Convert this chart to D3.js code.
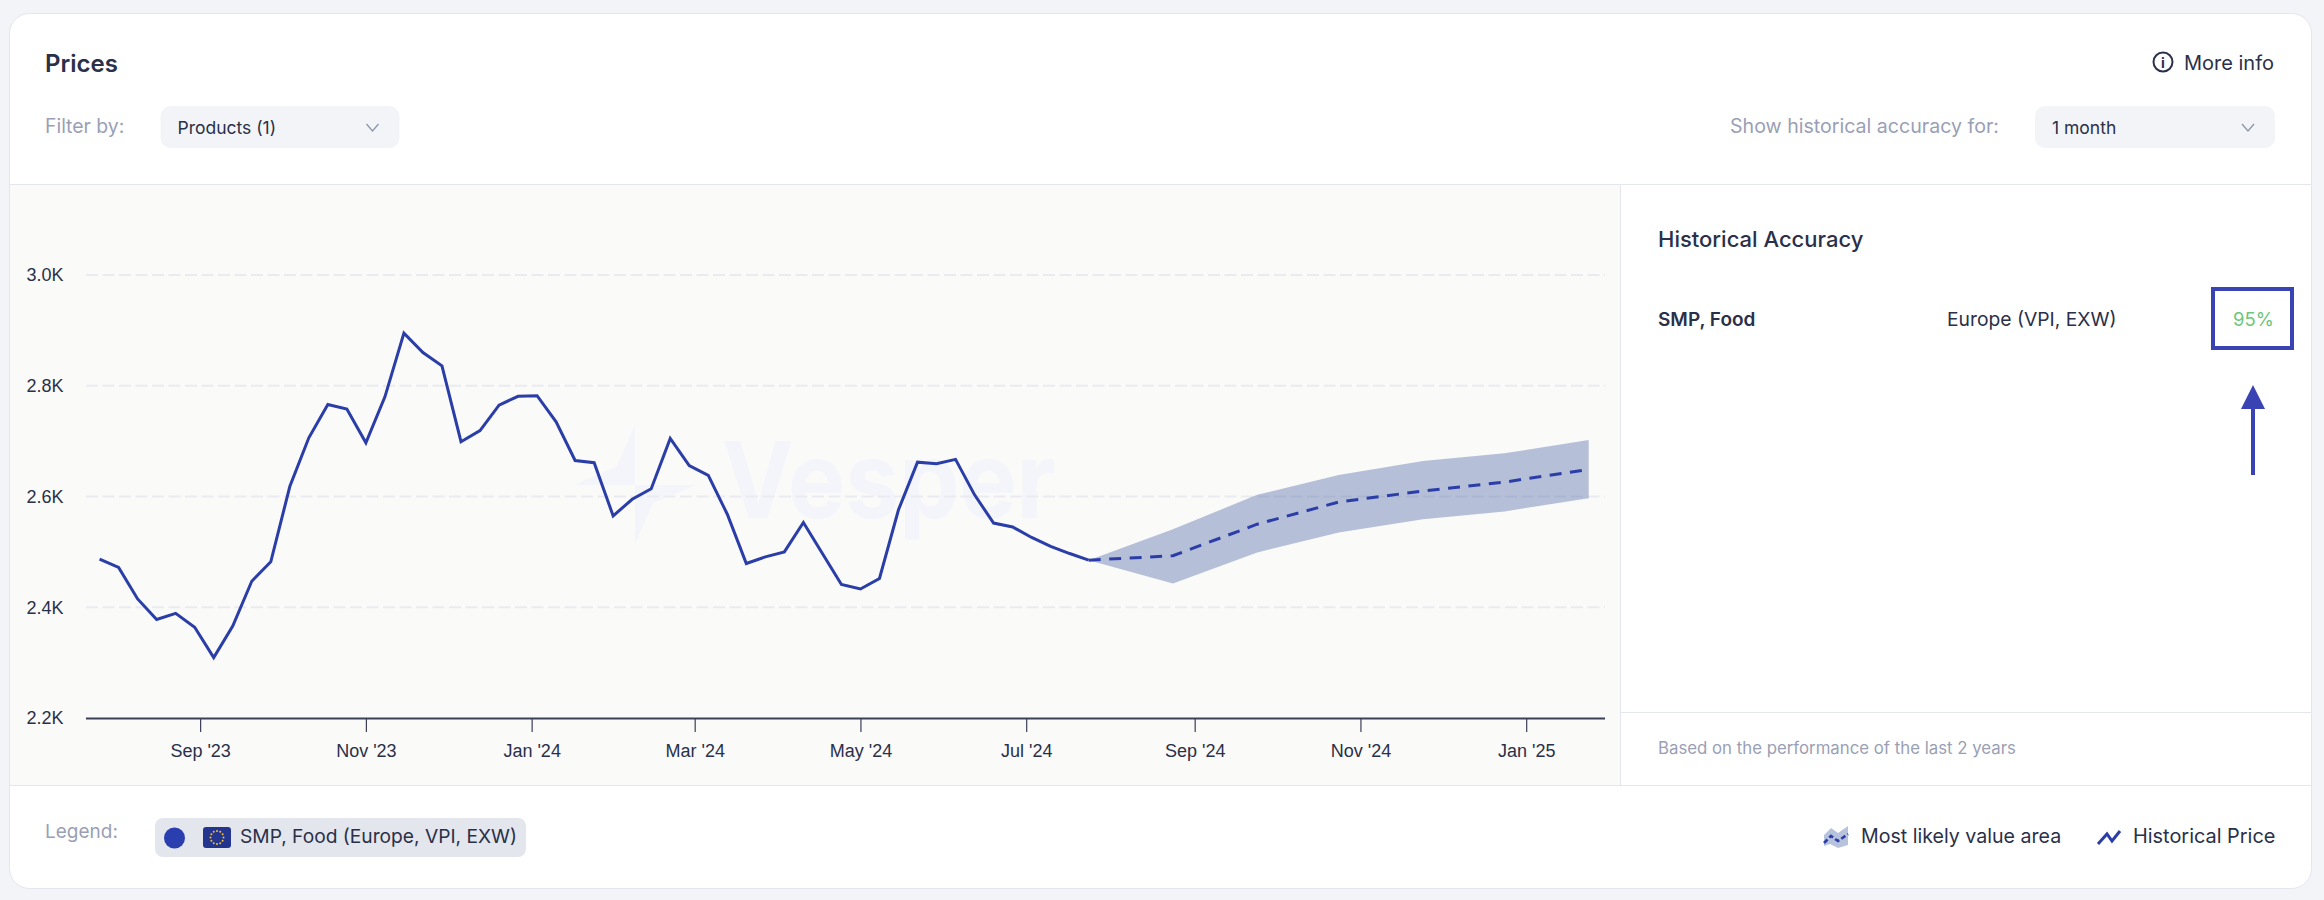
<!DOCTYPE html>
<html>
<head>
<meta charset="utf-8">
<title>Prices</title>
<script src="https://cdn.jsdelivr.net/npm/d3@7/dist/d3.min.js"></script>
<style>
  html, body { margin: 0; padding: 0; background: #f3f4f8; }
  svg { display: block; font-family: Inter, Roboto, sans-serif; }
  text { fill: #2a3049; }
  .muted { fill: #9a9fb5; }
</style>
</head>
<body>
<svg id="chart" width="2324" height="900"></svg>
<script>
// Weekly historical price, EUR/t, first reading 26 Jul 2023
const historyStart = "2023-07-26";
const historyValues = [
  2487, 2472, 2415, 2378, 2389, 2364, 2309, 2366, 2447, 2482, 2618, 2706, 2766, 2758,
  2697, 2780, 2895, 2860, 2836, 2699, 2719, 2765, 2781, 2782, 2735, 2665, 2661, 2565,
  2595, 2614, 2705, 2656, 2638, 2568, 2479, 2491, 2500, 2553, 2497, 2441, 2433, 2452,
  2576, 2662, 2659, 2667, 2603, 2552, 2545, 2526, 2510, 2497, 2485
];

// Monthly forecast with its most likely value area
const forecastDates = ["2024-07-24", "2024-08-24", "2024-09-24", "2024-10-24", "2024-11-24", "2024-12-24", "2025-01-24"];
const forecastMid   = [2485, 2493, 2550, 2590, 2610, 2626, 2649];
const forecastHigh  = [2485, 2541, 2603, 2639, 2664, 2678, 2702];
const forecastLow   = [2485, 2443, 2499, 2535, 2559, 2573, 2597];

const yTickValues = [2200, 2400, 2600, 2800, 3000];
const xTickDates = ["2023-09-01", "2023-11-01", "2024-01-01", "2024-03-01", "2024-05-01", "2024-07-01", "2024-09-01", "2024-11-01", "2025-01-01"];
const xDomain = ["2023-07-21", "2025-01-30"];

const parse = d3.utcParse("%Y-%m-%d");
const svg = d3.select("#chart");
const ink = "#2a3049", rule = "#e4e6ee", lineBlue = "#2b3ea8";

function label(x, y, str, size, opts = {}) {
  return svg.append("text").attr("x", x).attr("y", y)
    .attr("dominant-baseline", "central")
    .attr("text-anchor", opts.anchor || "start")
    .attr("font-size", size)
    .attr("font-weight", opts.weight || 400)
    .attr("class", opts.cls || null)
    .style("fill", opts.fill || null)
    .text(str);
}

// Card, header rule and chart plate
svg.append("rect").attr("x", 9.5).attr("y", 13.5).attr("width", 2302).attr("height", 875)
  .attr("rx", 20).attr("fill", "#fff").attr("stroke", rule);
svg.append("rect").attr("x", 10).attr("y", 184).attr("width", 1610).attr("height", 601).attr("fill", "#fafaf8");
[[10, 2311, 184.5, 184.5], [10, 2311, 785.5, 785.5], [1620.5, 1620.5, 184, 785], [1621, 2311, 712.5, 712.5]]
  .forEach(([x1, x2, y1, y2]) => svg.append("line").attr("x1", x1).attr("x2", x2).attr("y1", y1).attr("y2", y2).attr("stroke", rule));

// Header
label(45, 63, "Prices", 24, { weight: 600 });
label(45, 126, "Filter by:", 19.4, { cls: "muted" });
function dropdown(x, w, str) {
  svg.append("rect").attr("x", x).attr("y", 106).attr("width", w).attr("height", 42).attr("rx", 10).attr("fill", "#f2f4f8");
  label(x + 17, 127, str, 17.5);
  const cx = x + w - 27;
  svg.append("path").attr("d", `M${cx - 6},124 L${cx},131 L${cx + 6},124`).attr("fill", "none").attr("stroke", "#8f94a8").attr("stroke-width", 1.3);
}
dropdown(160.5, 239, "Products (1)");
label(1999, 126, "Show historical accuracy for:", 19.6, { cls: "muted", anchor: "end" });
dropdown(2035, 240, "1 month");

// Info link
svg.append("circle").attr("cx", 2163).attr("cy", 62).attr("r", 9.5).attr("fill", "none").attr("stroke", ink).attr("stroke-width", 2);
label(2163, 62.5, "i", 14, { anchor: "middle", weight: 700 });
label(2274, 62.5, "More info", 20, { anchor: "end" });

// Scales
const x = d3.scaleUtc().domain(xDomain.map(parse)).range([86, 1605]);
const y = d3.scaleLinear().domain([2200, 3000]).range([718, 275]);

// Watermark behind the plot
const wm = svg.append("g").attr("class", "watermark");
wm.append("path").attr("fill", "#f3f5fb")
  .attr("d", "M635,425 L635,485 L574,485 L617,466 Z M635,485 L696,485 L653,503 L635,544 Z");
wm.append("text").attr("x", 722).attr("y", 518).attr("font-size", 106).attr("font-weight", 700)
  .attr("textLength", 334).attr("lengthAdjust", "spacingAndGlyphs").style("fill", "#f3f5fb").text("Vesper");

// Gridlines and axes
const yAxis = d3.axisLeft(y).tickValues(yTickValues).tickSize(0).tickPadding(0)
  .tickFormat(v => (v / 1000).toFixed(1) + "K");
const gy = svg.append("g").attr("transform", "translate(63.5,0)").call(yAxis);
gy.select(".domain").remove();
gy.selectAll("text").attr("font-size", 18).attr("font-family", null).style("fill", ink);

svg.append("g").selectAll("line").data(yTickValues.filter(v => v > 2200)).join("line")
  .attr("x1", 86).attr("x2", 1605)
  .attr("y1", d => y(d)).attr("y2", d => y(d))
  .attr("stroke", "#e9ebf1").attr("stroke-width", 2).attr("stroke-dasharray", "12 4.5");

const xAxis = d3.axisBottom(x).tickValues(xTickDates.map(parse)).tickSize(14).tickPadding(12)
  .tickFormat(d3.utcFormat("%b '%y"));
const gx = svg.append("g").attr("transform", "translate(0,718)").call(xAxis);
gx.select(".domain").attr("stroke", "#3a3f58").attr("stroke-width", 2).attr("d", "M86,0.5H1605");
gx.selectAll(".tick line").attr("stroke", "#3a3f58").attr("stroke-width", 1.2);
gx.selectAll("text").attr("font-size", 18).attr("font-family", null).style("fill", ink);

// Most likely value area
const forecast = forecastDates.map((d, i) => ({ date: parse(d), mid: forecastMid[i], high: forecastHigh[i], low: forecastLow[i] }));
svg.append("path").datum(forecast)
  .attr("fill", "#2a4a96").attr("fill-opacity", 0.33)
  .attr("d", d3.area().x(d => x(d.date)).y0(d => y(d.low)).y1(d => y(d.high)));

// Historical price line
const start = parse(historyStart);
const history = historyValues.map((v, i) => ({ date: d3.utcDay.offset(start, i * 7), value: v }));
svg.append("path").datum(history)
  .attr("fill", "none").attr("stroke", lineBlue).attr("stroke-width", 3).attr("stroke-linejoin", "miter")
  .attr("d", d3.line().x(d => x(d.date)).y(d => y(d.value)));

// Forecast centre line
svg.append("path").datum(forecast)
  .attr("fill", "none").attr("stroke", lineBlue).attr("stroke-width", 3).attr("stroke-dasharray", "12 8.5")
  .attr("d", d3.line().x(d => x(d.date)).y(d => y(d.mid)));

// Accuracy panel
const accuracyPct = 95;
label(1658, 239, "Historical Accuracy", 22, { weight: 500 });
label(1658, 319, "SMP, Food", 19, { weight: 600 });
label(1947, 319, "Europe (VPI, EXW)", 19.3);
label(2274, 319, accuracyPct + "%", 18.5, { anchor: "end", fill: "#6cc77c" });
label(1658, 748, "Based on the performance of the last 2 years", 16.8, { cls: "muted" });

// Callout box and arrow around the accuracy figure
const callout = "#3a43b4";
svg.append("rect").attr("x", 2213).attr("y", 289).attr("width", 79).attr("height", 59)
  .attr("fill", "none").attr("stroke", callout).attr("stroke-width", 4);
svg.append("line").attr("x1", 2253).attr("x2", 2253).attr("y1", 404).attr("y2", 475).attr("stroke", callout).attr("stroke-width", 4);
svg.append("path").attr("d", "M2253,385 L2265,409 L2241,409 Z").attr("fill", callout);

// Legend
label(45, 831, "Legend:", 19, { cls: "muted" });
svg.append("rect").attr("x", 155).attr("y", 818).attr("width", 371).attr("height", 39).attr("rx", 8).attr("fill", "#e3e6ec");
svg.append("circle").attr("cx", 174.5).attr("cy", 838).attr("r", 10.5).attr("fill", "#2b3eb0");
svg.append("rect").attr("x", 203).attr("y", 827).attr("width", 28).attr("height", 21).attr("rx", 3).attr("fill", "#23358f");
d3.range(12).forEach(i => {
  const a = i * Math.PI / 6;
  svg.append("circle").attr("cx", 217 + 6.5 * Math.cos(a)).attr("cy", 837.5 + 6.5 * Math.sin(a)).attr("r", 1).attr("fill", "#f2c230");
});
label(240, 836, "SMP, Food (Europe, VPI, EXW)", 19.2);

// Legend keys on the right
svg.append("path").attr("d", "M1824,835 L1831,828 L1838,833 L1848,826 L1848,845 L1838,848 L1830,844 L1824,846 Z").attr("fill", "#b7c3dc");
svg.append("path").attr("d", "M1824,843 L1831,836 L1838,841 L1848,834").attr("fill", "none").attr("stroke", lineBlue).attr("stroke-width", 2.6).attr("stroke-dasharray", "5 2.5");
label(1861, 836, "Most likely value area", 19.6);
svg.append("path").attr("d", "M2098,844 L2107,834 L2112,841 L2120,831").attr("fill", "none").attr("stroke", lineBlue).attr("stroke-width", 3);
label(2133, 836, "Historical Price", 19.9);
</script>
</body>
</html>
